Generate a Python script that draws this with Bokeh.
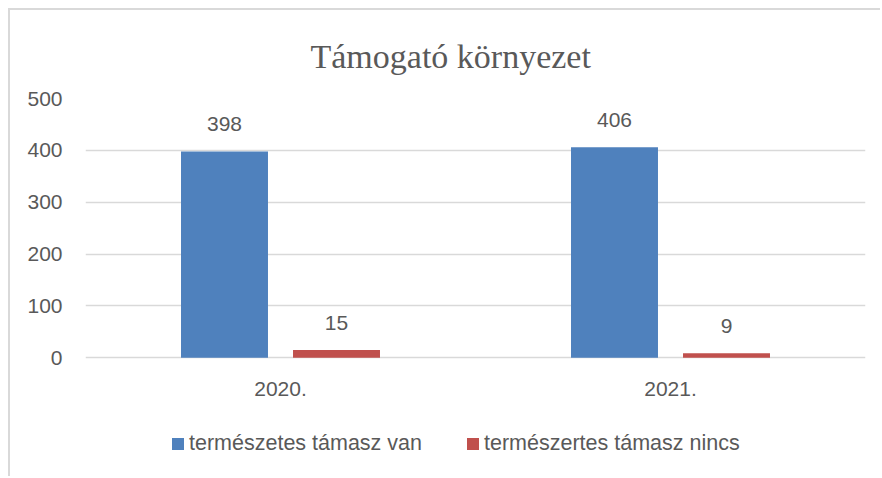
from bokeh.plotting import figure
from bokeh.models import (FactorRange, Range1d, ColumnDataSource, LabelSet, Legend,
                          LegendItem, FixedTicker)
from bokeh.core.properties import value
from bokeh.transform import dodge
from bokeh.embed import file_html
from bokeh.resources import INLINE

# ---- data ----
years = ["2020.", "2021."]
tamasz_van = [398, 406]
tamasz_nincs = [15, 9]
series_names = ["természetes támasz van", "természertes támasz nincs"]
y_ticks = [0, 100, 200, 300, 400, 500]
title_text = "Támogató környezet"

BLUE = "#4F81BD"
RED = "#C0504D"
TXT = "#595959"
GRID = "#D9D9D9"
SANS = "Liberation Sans"
SERIF = "Liberation Serif"

src = ColumnDataSource(dict(
    years=years,
    van=tamasz_van,
    nincs=tamasz_nincs,
    van_lbl=[str(v) for v in tamasz_van],
    nincs_lbl=[str(v) for v in tamasz_nincs],
))

# frame extends below zero so the legend can sit inside it
p = figure(width=872, height=468,
           x_range=FactorRange(*years, range_padding=0),
           y_range=Range1d(-209.6, 500), output_backend="svg", toolbar_location=None,
           min_border_left=75, min_border_right=17, min_border_top=88,
           min_border_bottom=12, title=title_text)
p.styles = {"transform": "translate(8px, 8px)",
            "border-left": "2px solid #D9D9D9", "border-top": "2px solid #D9D9D9"}

OFF = 0.1436
W = 0.223
r1 = p.vbar(x=dodge("years", -OFF, range=p.x_range), top="van", width=W, source=src,
            fill_color=BLUE, line_color=None)
r2 = p.vbar(x=dodge("years", OFF, range=p.x_range), top="nincs", width=W, source=src,
            fill_color=RED, line_color=None)

for col, lbl, off in (("van", "van_lbl", -OFF), ("nincs", "nincs_lbl", OFF)):
    p.add_layout(LabelSet(x=dodge("years", off, range=p.x_range), y=col, text=lbl,
                          source=src, y_offset=20, text_align="center",
                          text_baseline="alphabetic", text_font=value(SANS),
                          text_font_size="21px", text_color=TXT))

# title
p.title.text_font = SERIF
p.title.text_font_size = "34px"
p.title.text_font_style = "normal"
p.title.text_color = TXT
p.title.align = "left"
p.title.offset = 225
p.title.standoff = 47

# axes
p.outline_line_color = None
p.background_fill_color = "white"
p.border_fill_color = "white"
p.yaxis.ticker = FixedTicker(ticks=y_ticks)
for ax in (p.xaxis[0], p.yaxis[0]):
    ax.axis_line_color = None
    ax.major_tick_line_color = None
    ax.minor_tick_line_color = None
    ax.major_label_text_font = SANS
    ax.major_label_text_font_size = "21px"
    ax.major_label_text_color = TXT
p.yaxis.major_label_standoff = 17
p.xaxis.fixed_location = -73.7
p.xaxis.major_label_standoff = -20
p.xgrid.grid_line_color = None
p.ygrid.grid_line_color = GRID
p.ygrid.grid_line_width = 1.3

legend = Legend(items=[LegendItem(label=series_names[0], renderers=[r1]),
                       LegendItem(label=series_names[1], renderers=[r2])],
                orientation="horizontal", location=(85, 10),
                glyph_width=15, glyph_height=15, label_standoff=4, spacing=43,
                padding=0, margin=0, border_line_color=None,
                background_fill_alpha=0, label_text_font=SANS,
                label_text_font_size="21.5px", label_text_color=TXT)
p.add_layout(legend, "center")

open("out.html", "w").write(file_html(p, INLINE))
